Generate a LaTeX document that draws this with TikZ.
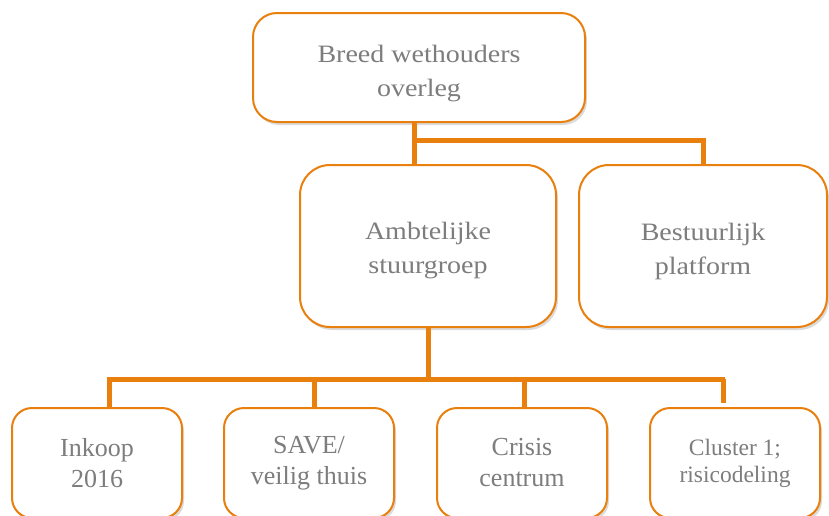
\documentclass[tikz,border=0pt]{standalone}
\usepackage{fontspec}
\setmainfont{Liberation Serif}
\newfontfamily\widefont[FakeStretch=1.12]{Liberation Serif}
\usetikzlibrary{shadows}

\definecolor{orgorange}{RGB}{233,128,14}
\definecolor{labelgray}{RGB}{125,125,125}

\tikzset{
  unitbox/.style={draw=orgorange, line width=2pt, fill=white, rounded corners=24pt,
    align=center, text=labelgray, inner sep=0pt,
    drop shadow={shadow xshift=2pt, shadow yshift=-3pt, opacity=0.14, fill=black}},
  upperbox/.style={unitbox},
  uppertext/.style={align=center, text=labelgray, inner sep=0pt, yshift=-6pt,
    font=\widefont\fontsize{25}{34}\selectfont},
  lowerbox/.style={unitbox, rounded corners=20pt, minimum width=170pt, minimum height=110pt,
    font=\fontsize{26}{31}\selectfont},
  link/.style={draw=orgorange, line width=5pt},
}

\begin{document}
\begin{tikzpicture}[x=1pt, y=-1pt]
  \useasboundingbox (0,0) rectangle (829,515);
  \clip (0,0) rectangle (829,515);
  \fill[white] (0,0) rectangle (829,515);

  % junction points of the connectors
  \coordinate (topdrop) at (414,140);
  \coordinate (topright) at (703,140);
  \coordinate (midbar) at (428,379);
  \coordinate (barleft) at (107,379);
  \coordinate (barright) at (725,379);
  \coordinate (lastend) at (723,403);

  % connectors (drawn first so the boxes sit on top)
  \draw[link] (414,122) -- (topdrop) -- (414,166);
  \draw[link] (topdrop) -- (topright) -- (703,166);
  \draw[link] (428,326) -- (midbar);
  \draw[link] (barleft) -- (barright);
  \draw[link] (109,379) -- (109,409);
  \draw[link] (314,379) -- (314,409);
  \draw[link] (524,379) -- (524,409);
  \draw[link] (723,379) -- (lastend);

  % top level
  \node[upperbox, minimum width=332pt, minimum height=109pt] (top) at (419,67.5) {};
  \node[uppertext] (toptext) at (top.center) {Breed wethouders\\overleg};

  % second level
  \node[upperbox, rounded corners=30pt, minimum width=256pt, minimum height=162pt] (ambt) at (428,246) {};
  \node[uppertext, yshift=1pt] (ambttext) at (ambt.center) {Ambtelijke\\stuurgroep};
  \node[upperbox, rounded corners=30pt, minimum width=248pt, minimum height=162pt] (best) at (703,246) {};
  \node[uppertext, yshift=1pt] (besttext) at (best.center) {Bestuurlijk\\platform};

  % third level
  \node[lowerbox] (inkoop) at (97,463) {Inkoop\\2016};
  \node[lowerbox] (save) at (309,463) {SAVE/\\veilig thuis};
  \node[lowerbox] (crisis) at (522,463) {Crisis\\centrum};
  \node[lowerbox, font=\fontsize{23.5}{27}\selectfont] (cluster) at (735,463) {Cluster 1;\\risicodeling};

  % redraw links over the box outlines where they meet
  \draw[link] (top.south -| topdrop) -- (topdrop);
  \draw[link] (ambt.south -| midbar) -- (midbar);
\end{tikzpicture}
\end{document}
